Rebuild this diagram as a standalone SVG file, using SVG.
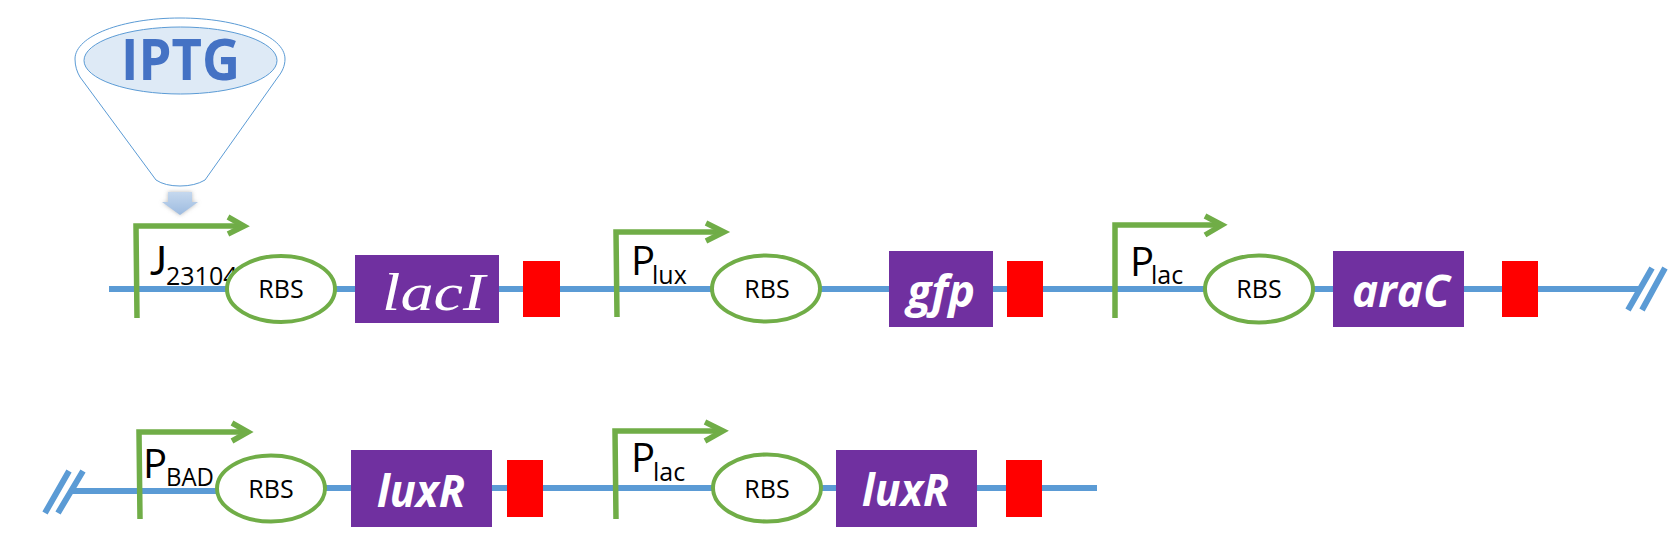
<svg xmlns="http://www.w3.org/2000/svg" width="1668" height="550" viewBox="0 0 1668 550">
<style>
.dna{stroke:#5B9BD5;stroke-width:6;fill:none}
.slash{stroke:#5B9BD5;stroke-width:6;fill:none}
.prom{stroke:#70AD47;stroke-width:5.500;fill:none}
.rbs{stroke:#70AD47;stroke-width:4;fill:#fff}
.gene{fill:#7030A0}
.term{fill:#FF0000}
.t{font-family:"Open Sans","Liberation Sans",sans-serif;fill:#000}
.rt{font-size:25px;text-anchor:middle}
.p{font-size:40px}
.s{font-size:25px}
.g{font-family:"Open Sans","Liberation Sans",sans-serif;font-weight:700;font-style:italic;fill:#fff;font-size:45px}
</style>
<defs>
<linearGradient id="ag" x1="0" y1="0" x2="0" y2="1"><stop offset="0" stop-color="#C5D8EE"/><stop offset="1" stop-color="#9DBBE0"/></linearGradient>
<filter id="sh" x="-30%" y="-30%" width="160%" height="170%"><feGaussianBlur in="SourceAlpha" stdDeviation="2"/><feOffset dy="2"/><feFlood flood-color="#8a8a8a" flood-opacity=".6" result="c"/><feComposite in="c" in2="SourceGraphic" operator="in" result="x"/><feGaussianBlur stdDeviation="2"/><feMerge><feMergeNode/><feMergeNode in="SourceGraphic"/></feMerge></filter>
</defs>
<rect width="1668" height="550" fill="#fff"/>
<g id="connectors">
<path class="dna" d="M109 289H1640"/>
<path class="slash" d="M1652 268L1628 310M1665 268L1642 310"/>
<path class="dna" d="M72 491H230M320 488H1097"/>
<path class="slash" d="M69 471L45 513M83 471L58 513"/>
</g>
<g id="iptg">
<path d="M75 59C75 36 122 18 180 18C238 18 285 36 285 59C285 66 282 72 278 77L205 180Q195 186 180 186Q165 186 156 180L80 77C77 72 75 66 75 59Z" fill="#fff" stroke="#5B9BD5" stroke-width="1"/>
<ellipse cx="180.500" cy="60.500" rx="96.500" ry="33.500" fill="#DEEAF6" stroke="#5B9BD5" stroke-width="1"/>
<text x="121" y="80" font-family="'Open Sans','Liberation Sans',sans-serif" font-weight="700" font-size="57" fill="#4472C4" textLength="119" lengthAdjust="spacingAndGlyphs">IPTG</text>
<path d="M168 192H192V202H198L180 215L162 202H168Z" fill="url(#ag)" filter="url(#sh)"/>
</g>
<g id="p1">
<path class="prom" d="M137 318L136 226H242"/><path class="prom" d="M228 217L244 226L228 234"/>
<text x="150" y="275" font-family="Lato,sans-serif" font-size="40">J</text><text class="t s" x="166" y="285">23104</text>
</g>
<g id="rbs1"><ellipse class="rbs" cx="281" cy="289" rx="54" ry="33"/><text class="t rt" x="281" y="298">RBS</text></g>
<g id="gene-laci"><rect class="gene" x="355" y="255" width="144" height="68"/><text x="382" y="310" font-family="'Liberation Serif',serif" font-style="italic" font-size="53" fill="#fff" textLength="103" lengthAdjust="spacingAndGlyphs">lacI</text></g>
<g id="term1"><rect class="term" x="523" y="261" width="37" height="56"/></g>
<g id="p2">
<path class="prom" d="M617 317L616 232H722"/><path class="prom" d="M706 223L724 232L706 241"/>
<text class="t p" x="631" y="275">P</text><text class="t s" x="652" y="284">lux</text>
</g>
<g id="rbs2"><ellipse class="rbs" cx="766" cy="288.500" rx="54" ry="33"/><text class="t rt" x="767" y="298">RBS</text></g>
<g id="gene-gfp"><rect class="gene" x="889" y="251" width="104" height="76"/><text class="g" x="907" y="307" textLength="68" lengthAdjust="spacingAndGlyphs">gfp</text></g>
<g id="term2"><rect class="term" x="1007" y="261" width="36" height="56"/></g>
<g id="p3">
<path class="prom" d="M1115 318V225H1220"/><path class="prom" d="M1205 216L1222 225L1205 235"/>
<text class="t p" x="1130" y="276">P</text><text class="t s" x="1151" y="284">lac</text>
</g>
<g id="rbs3"><ellipse class="rbs" cx="1259" cy="289" rx="54" ry="33.500"/><text class="t rt" x="1259" y="298">RBS</text></g>
<g id="gene-arac"><rect class="gene" x="1333" y="251" width="131" height="76"/><text class="g" x="1352" y="307" textLength="98" lengthAdjust="spacingAndGlyphs">araC</text></g>
<g id="term3"><rect class="term" x="1502" y="261" width="36" height="56"/></g>
<g id="p4">
<path class="prom" d="M140 519L139 432H246"/><path class="prom" d="M232 423L248 432L232 441"/>
<text class="t p" x="143" y="478">P</text><text class="t s" x="166" y="486" textLength="48" lengthAdjust="spacingAndGlyphs">BAD</text>
</g>
<g id="rbs4"><ellipse class="rbs" cx="271" cy="488.500" rx="54" ry="33"/><text class="t rt" x="271" y="498">RBS</text></g>
<g id="gene-luxr1"><rect class="gene" x="351" y="450" width="141" height="77"/><text class="g" x="377" y="507" textLength="88" lengthAdjust="spacingAndGlyphs">luxR</text></g>
<g id="term4"><rect class="term" x="507" y="460" width="36" height="57"/></g>
<g id="p5">
<path class="prom" d="M616 519L615 431H721"/><path class="prom" d="M705 422L723 431L705 441"/>
<text class="t p" x="631" y="472">P</text><text class="t s" x="653" y="481">lac</text>
</g>
<g id="rbs5"><ellipse class="rbs" cx="767" cy="488" rx="54" ry="33.500"/><text class="t rt" x="767" y="498">RBS</text></g>
<g id="gene-luxr2"><rect class="gene" x="836" y="450" width="141" height="77"/><text class="g" x="862" y="506" textLength="87" lengthAdjust="spacingAndGlyphs">luxR</text></g>
<g id="term5"><rect class="term" x="1006" y="460" width="36" height="57"/></g>
</svg>
